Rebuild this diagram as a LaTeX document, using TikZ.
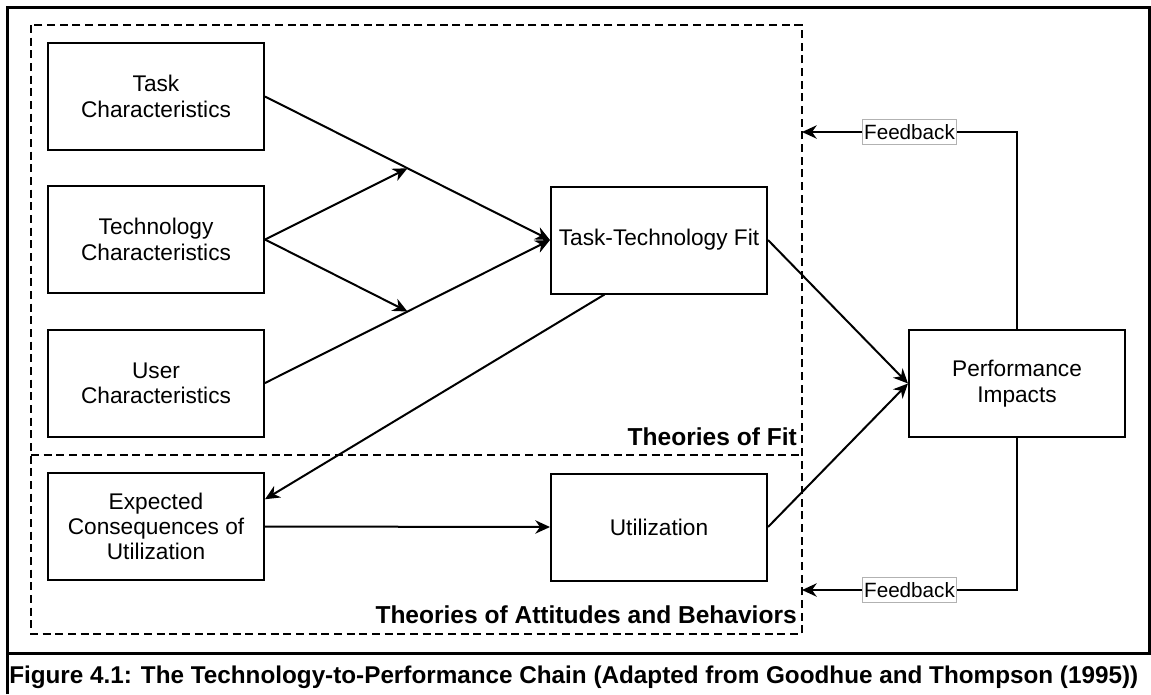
\documentclass[tikz,border=0pt]{standalone}
\usepackage{fontspec}
\setmainfont{Liberation Sans}
\usetikzlibrary{arrows.meta,calc}
\begin{document}
\begin{tikzpicture}[x=0.75pt,y=-0.75pt,
  stage/.style={draw,line width=1.5pt,minimum width=162pt,minimum height=80.25pt,
    align=center,inner sep=2pt,font=\fontsize{17}{19}\selectfont},
  zone/.style={line width=1.5pt,dash pattern=on 6pt off 3.5pt},
  link/.style={line width=1.5pt,-{Stealth[length=11pt,width=10pt,inset=3.5pt]}},
  zonelabel/.style={font=\bfseries\fontsize{18.4}{20}\selectfont,anchor=base east,inner sep=0pt},
  fblabel/.style={draw=black!30,line width=0.75pt,fill=white,inner xsep=1pt,inner ysep=3.5pt,
    font=\fontsize{15.5}{17}\selectfont},
  frame/.style={line width=2.25pt}]

\useasboundingbox (0,0) rectangle (1151,694);

% outer frame and caption rule
\draw[frame] (7,694) -- (7,7) -- (1149.5,7) -- (1149.5,653);
\draw[frame] (7,653) -- (1151,653);
\node[anchor=base west,inner sep=0pt,font=\bfseries\fontsize{18.2}{20}\selectfont] (caption)
  at (9,683) {Figure 4.1: The Technology-to-Performance Chain (Adapted from Goodhue and Thompson (1995))};

% theory zones
\coordinate (zoneNW) at (31,25);
\coordinate (zoneSE) at (802,634);
\coordinate (zoneW) at (31,455);
\draw[zone] (zoneNW) rectangle (zoneSE);
\draw[zone] (zoneW) -- (zoneW -| zoneSE);
\node[zonelabel] (fitlabel) at (797,445) {Theories of Fit};
\node[zonelabel] (attlabel) at (797,623) {Theories of Attitudes and Behaviors};

% stages
\node[stage] (task) at (156,96.5) {Task\\Characteristics};
\node[stage] (tech) at (156,239.5) {Technology\\Characteristics};
\node[stage] (user) at (156,383) {User\\Characteristics};
\node[stage] (exp)  at (156,526.5) {Expected\\Consequences of\\Utilization};
\node[stage] (ttf)  at (659,240) {Task-Technology Fit};
\node[stage] (util) at (659,527) {Utilization};
\node[stage] (perf) at (1017,383.5) {Performance\\Impacts};

% links
\draw[link] (task.east) -- (ttf.west);
\draw[link] (user.east) -- (ttf.west);
\draw[link] (tech.east) -- ($(task.east)!0.5!(ttf.west)$);
\draw[link] (tech.east) -- ($(user.east)!0.5!(ttf.west)$);
\draw[link] ($(ttf.south west)!0.25!(ttf.south east)$) -- ($(exp.north east)!0.25!(exp.south east)$);
\draw[link] (exp.east) -- (util.west);
\draw[link] (ttf.east) -- (perf.west);
\draw[link] (util.east) -- (perf.west);

% feedback loops
\coordinate (fbtop) at (1017,132);
\coordinate (fbbot) at (1017,590);
\draw[link] (perf.north) -- (fbtop) -- node[fblabel] {Feedback} (fbtop -| zoneSE);
\draw[link] (perf.south) -- (fbbot) -- node[fblabel] {Feedback} (fbbot -| zoneSE);
\end{tikzpicture}
\end{document}
